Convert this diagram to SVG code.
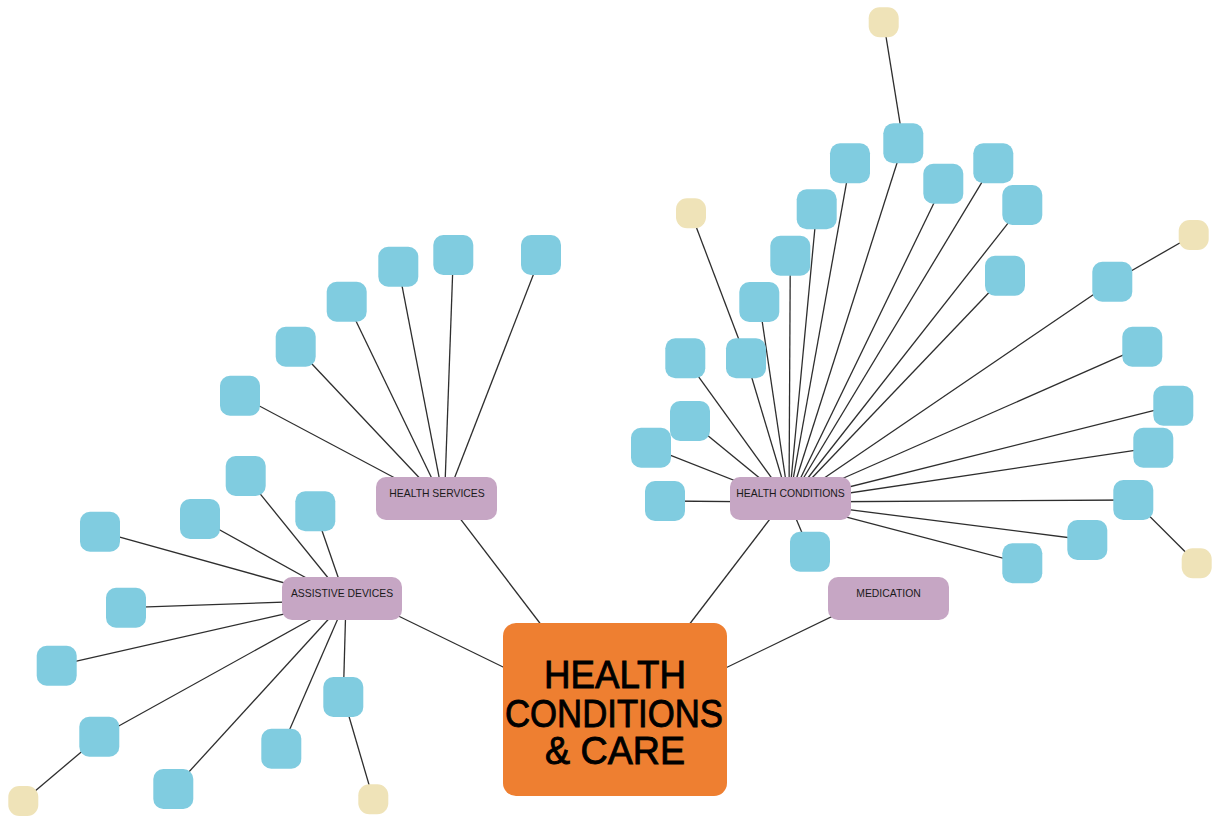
<svg xmlns="http://www.w3.org/2000/svg" width="1213" height="817" viewBox="0 0 1213 817">
<style>
.e{stroke:#2e2e2e;stroke-width:1.3;fill:none}
.b{fill:#80CCE0}
.y{fill:#EFE3B8}
.h{fill:#C6A6C4}
.t{font-family:"Liberation Sans",Arial,sans-serif;font-size:10.4px;fill:#1a1a1a;text-anchor:middle}
.c{font-family:"Liberation Sans",Arial,sans-serif;font-size:39px;fill:#000;text-anchor:middle;stroke:#000;stroke-width:0.9}
</style>
<rect width="1213" height="817" fill="#fff"/>
<g id="connectors">
<line class="e" x1="345" y1="590" x2="615" y2="721.5"/>
<line class="e" x1="449" y1="504" x2="615" y2="721.5"/>
<line class="e" x1="783" y1="502" x2="615" y2="721.5"/>
<line class="e" x1="888" y1="589.4" x2="615" y2="721.5"/>
<line class="e" x1="245.7" y1="476" x2="346" y2="600"/>
<line class="e" x1="200" y1="519" x2="346" y2="600"/>
<line class="e" x1="315.3" y1="511.3" x2="346" y2="600"/>
<line class="e" x1="100" y1="531.7" x2="346" y2="600"/>
<line class="e" x1="126" y1="607.7" x2="346" y2="600"/>
<line class="e" x1="56.7" y1="665.7" x2="346" y2="600"/>
<line class="e" x1="99.3" y1="736.7" x2="346" y2="600"/>
<line class="e" x1="173.3" y1="789" x2="346" y2="600"/>
<line class="e" x1="281.3" y1="748.7" x2="346" y2="600"/>
<line class="e" x1="343.3" y1="697" x2="346" y2="600"/>
<line class="e" x1="23.3" y1="801" x2="99.3" y2="736.7"/>
<line class="e" x1="373.3" y1="799.3" x2="343.3" y2="697"/>
<line class="e" x1="240" y1="395.7" x2="444.3" y2="504.2"/>
<line class="e" x1="295.7" y1="346.7" x2="444.3" y2="504.2"/>
<line class="e" x1="346.7" y1="301.7" x2="444.3" y2="504.2"/>
<line class="e" x1="398.3" y1="266.7" x2="444.3" y2="504.2"/>
<line class="e" x1="453.3" y1="255" x2="444.3" y2="504.2"/>
<line class="e" x1="541" y1="255" x2="444.3" y2="504.2"/>
<line class="e" x1="816.7" y1="209.3" x2="789" y2="502"/>
<line class="e" x1="790.3" y1="255.7" x2="789" y2="502"/>
<line class="e" x1="759.3" y1="302" x2="789" y2="502"/>
<line class="e" x1="685.3" y1="358.3" x2="789" y2="502"/>
<line class="e" x1="746" y1="358.3" x2="789" y2="502"/>
<line class="e" x1="690" y1="421" x2="789" y2="502"/>
<line class="e" x1="651" y1="447.7" x2="789" y2="502"/>
<line class="e" x1="665" y1="501" x2="789" y2="502"/>
<line class="e" x1="810" y1="551.7" x2="789" y2="502"/>
<line class="e" x1="850" y1="163.3" x2="789" y2="502"/>
<line class="e" x1="903.3" y1="143.3" x2="789" y2="502"/>
<line class="e" x1="943.3" y1="183.7" x2="789" y2="502"/>
<line class="e" x1="993.3" y1="163.3" x2="789" y2="502"/>
<line class="e" x1="1022.3" y1="205" x2="789" y2="502"/>
<line class="e" x1="1005" y1="275.7" x2="789" y2="502"/>
<line class="e" x1="1112.3" y1="281.7" x2="789" y2="502"/>
<line class="e" x1="1142.3" y1="346.7" x2="789" y2="502"/>
<line class="e" x1="1173.3" y1="405.7" x2="789" y2="502"/>
<line class="e" x1="1153.3" y1="447.7" x2="789" y2="502"/>
<line class="e" x1="1133.3" y1="500" x2="789" y2="502"/>
<line class="e" x1="1087.3" y1="540" x2="789" y2="502"/>
<line class="e" x1="1022.3" y1="563.3" x2="789" y2="502"/>
<line class="e" x1="691" y1="213.3" x2="746" y2="358.3"/>
<line class="e" x1="883.7" y1="22.3" x2="903.3" y2="143.3"/>
<line class="e" x1="1193.7" y1="235" x2="1112.3" y2="281.7"/>
<line class="e" x1="1196.7" y1="563.3" x2="1133.3" y2="500"/>
</g>
<g id="central">
<rect x="503" y="623" width="224" height="173" rx="13" fill="#EE7F31"/>
<text class="c" x="615" y="688" textLength="142" lengthAdjust="spacingAndGlyphs">HEALTH</text>
<text class="c" x="614" y="727" textLength="218" lengthAdjust="spacingAndGlyphs">CONDITIONS</text>
<text class="c" x="615" y="764" textLength="140" lengthAdjust="spacingAndGlyphs">&amp; CARE</text>
</g>
<g id="health-services"><rect class="h" x="376" y="477" width="121" height="43" rx="10"/><text class="t" x="437" y="497">HEALTH SERVICES</text></g>
<g id="assistive-devices"><rect class="h" x="282" y="577" width="120" height="43" rx="10"/><text class="t" x="342" y="597">ASSISTIVE DEVICES</text></g>
<g id="health-conditions"><rect class="h" x="730" y="477" width="121" height="43" rx="10"/><text class="t" x="790.5" y="497">HEALTH CONDITIONS</text></g>
<g id="medication"><rect class="h" x="828" y="577" width="121" height="43" rx="10"/><text class="t" x="888.5" y="597">MEDICATION</text></g>
<g id="ad-leaves">
<rect id="ad1" class="b" x="225.7" y="456" width="40" height="40" rx="10"/>
<rect id="ad2" class="b" x="180" y="499" width="40" height="40" rx="10"/>
<rect id="ad3" class="b" x="295.3" y="491.3" width="40" height="40" rx="10"/>
<rect id="ad4" class="b" x="80" y="511.7" width="40" height="40" rx="10"/>
<rect id="ad5" class="b" x="106" y="587.7" width="40" height="40" rx="10"/>
<rect id="ad6" class="b" x="36.7" y="645.7" width="40" height="40" rx="10"/>
<rect id="ad7" class="b" x="79.3" y="716.7" width="40" height="40" rx="10"/>
<rect id="ad8" class="b" x="153.3" y="769" width="40" height="40" rx="10"/>
<rect id="ad9" class="b" x="261.3" y="728.7" width="40" height="40" rx="10"/>
<rect id="ad10" class="b" x="323.3" y="677" width="40" height="40" rx="10"/>
<rect id="ad7a" class="y" x="8.3" y="786" width="30" height="30" rx="11"/>
<rect id="ad10a" class="y" x="358.3" y="784.3" width="30" height="30" rx="11"/>
</g>
<g id="hs-leaves">
<rect id="hs1" class="b" x="220" y="375.7" width="40" height="40" rx="10"/>
<rect id="hs2" class="b" x="275.7" y="326.7" width="40" height="40" rx="10"/>
<rect id="hs3" class="b" x="326.7" y="281.7" width="40" height="40" rx="10"/>
<rect id="hs4" class="b" x="378.3" y="246.7" width="40" height="40" rx="10"/>
<rect id="hs5" class="b" x="433.3" y="235" width="40" height="40" rx="10"/>
<rect id="hs6" class="b" x="521" y="235" width="40" height="40" rx="10"/>
</g>
<g id="hc-leaves">
<rect id="hcA" class="b" x="796.7" y="189.3" width="40" height="40" rx="10"/>
<rect id="hcB" class="b" x="770.3" y="235.7" width="40" height="40" rx="10"/>
<rect id="hcC" class="b" x="739.3" y="282" width="40" height="40" rx="10"/>
<rect id="hcD" class="b" x="665.3" y="338.3" width="40" height="40" rx="10"/>
<rect id="hcE" class="b" x="726" y="338.3" width="40" height="40" rx="10"/>
<rect id="hcF" class="b" x="670" y="401" width="40" height="40" rx="10"/>
<rect id="hcG" class="b" x="631" y="427.7" width="40" height="40" rx="10"/>
<rect id="hcH" class="b" x="645" y="481" width="40" height="40" rx="10"/>
<rect id="hcI" class="b" x="790" y="531.7" width="40" height="40" rx="10"/>
<rect id="hcK" class="b" x="830" y="143.3" width="40" height="40" rx="10"/>
<rect id="hcJ" class="b" x="883.3" y="123.3" width="40" height="40" rx="10"/>
<rect id="hcL" class="b" x="923.3" y="163.7" width="40" height="40" rx="10"/>
<rect id="hcM" class="b" x="973.3" y="143.3" width="40" height="40" rx="10"/>
<rect id="hcN" class="b" x="1002.3" y="185" width="40" height="40" rx="10"/>
<rect id="hcP" class="b" x="985" y="255.7" width="40" height="40" rx="10"/>
<rect id="hcQ" class="b" x="1092.3" y="261.7" width="40" height="40" rx="10"/>
<rect id="hcR" class="b" x="1122.3" y="326.7" width="40" height="40" rx="10"/>
<rect id="hcS" class="b" x="1153.3" y="385.7" width="40" height="40" rx="10"/>
<rect id="hcT" class="b" x="1133.3" y="427.7" width="40" height="40" rx="10"/>
<rect id="hcU" class="b" x="1113.3" y="480" width="40" height="40" rx="10"/>
<rect id="hcV" class="b" x="1067.3" y="520" width="40" height="40" rx="10"/>
<rect id="hcW" class="b" x="1002.3" y="543.3" width="40" height="40" rx="10"/>
<rect id="hcEa" class="y" x="676" y="198.3" width="30" height="30" rx="11"/>
<rect id="hcJa" class="y" x="868.7" y="7.3" width="30" height="30" rx="11"/>
<rect id="hcQa" class="y" x="1178.7" y="220" width="30" height="30" rx="11"/>
<rect id="hcUa" class="y" x="1181.7" y="548.3" width="30" height="30" rx="11"/>
</g>
</svg>
